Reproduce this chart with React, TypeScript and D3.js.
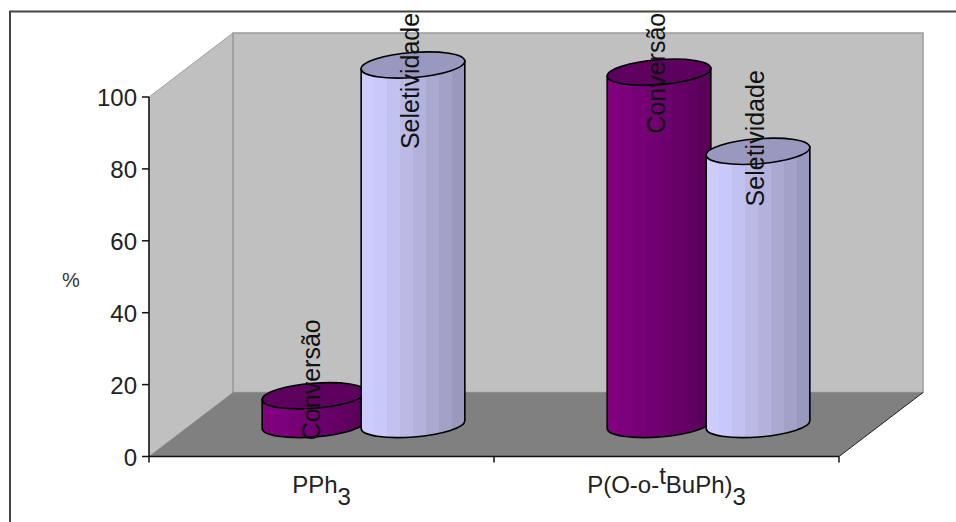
import React from "react";
import * as d3 from "d3";

// Catalyst results per phosphorus ligand, in percent.
const ligands = ["PPh3", "P(O-o-tBuPh)3"];
const seriesNames = ["Conversão", "Seletividade"];
const conversao = [8, 98];
const seletividade = [100, 76];
const yTicks = [0, 20, 40, 60, 80, 100];

const FONT = "'Liberation Sans', Arial, sans-serif";
const DEPTH_X = 84;
const DEPTH_Y = -64;
const RX = 52;
const RY = 12.5;
const TILT = -4.5;

const y = d3.scaleLinear().domain([0, 100]).range([456.5, 97]);
const xGroup = d3.scaleBand().domain(ligands).range([149, 839]);
const xSeries = d3.scaleBand().domain(seriesNames).range([-99, 99]);

// Vertical shading bands across a cylinder, left to right.
const bandsLight = ["#ccccff", "#c8c8fa", "#c2c2f0", "#babae4", "#b2b2dc", "#aaaad0", "#a2a2c8", "#9999bf"];
const bandsDark = ["#800080", "#7c007c", "#770077", "#720072", "#6c006c", "#660066", "#600060", "#5a005a"];

function Bands({ id, colors }: { id: string; colors: string[] }) {
  const n = colors.length;
  return (
    <linearGradient id={id} x1="0" x2="1" y1="0" y2="0">
      {colors.flatMap((c, i) => [
        <stop key={`${i}a`} offset={i / n} stopColor={c} />,
        <stop key={`${i}b`} offset={(i + 1) / n} stopColor={c} />,
      ])}
    </linearGradient>
  );
}

function Cylinder({ cx, value, fill, cap }: { cx: number; value: number; fill: string; cap: string }) {
  const base = y(0) + DEPTH_Y / 2;
  const top = y(value) + DEPTH_Y / 2;
  const a = (TILT * Math.PI) / 180;
  const dx = RX * Math.cos(a);
  const dy = RX * Math.sin(a);
  const body = d3.path();
  body.moveTo(cx - dx, top - dy);
  body.lineTo(cx - dx, base - dy);
  const arc = `A${RX} ${RY} ${TILT} 0 0 ${cx + dx} ${base + dy}`;
  const d = `${body.toString()}${arc}L${cx + dx} ${top + dy}Z`;
  return (
    <g stroke="#000" strokeWidth={1.6}>
      <path d={d} fill={`url(#${fill})`} />
      <ellipse cx={cx} cy={top} rx={RX} ry={RY} fill={cap} transform={`rotate(${TILT} ${cx} ${top})`} />
    </g>
  );
}

export default function App() {
  const xl = xGroup.range()[0];
  const xr = xGroup.range()[1];
  const y0 = y(0);
  const y1 = y(100);
  const columns = [conversao, seletividade];
  const styles = [
    { fill: "cylDark", cap: "#5e005e" },
    { fill: "cylLight", cap: "#9999bf" },
  ];
  const center = (g: string, s: string) =>
    xGroup(g)! + xGroup.bandwidth() / 2 + DEPTH_X / 2 + xSeries(s)! + xSeries.bandwidth() / 2;
  // Vertical nudges of each value label relative to its cylinder's top.
  const labelNudge = [
    [-16, 1],
    [16, -13],
  ];
  return (
    <svg
      width={956}
      height={522}
      style={{ position: "fixed", left: 0, top: 0, background: "#fff" }}
      fontFamily={FONT}
    >
      <defs>
        <Bands id="cylLight" colors={bandsLight} />
        <Bands id="cylDark" colors={bandsDark} />
      </defs>

      <path d="M10 522V11.5H956" fill="none" stroke="#444" strokeWidth={2} />

      {/* Walls and floor of the 3D plot box */}
      <path
        d={`M${xl} ${y0}V${y1}L${xl + DEPTH_X} ${y1 + DEPTH_Y}V${y0 + DEPTH_Y}Z`}
        fill="#c0c0c0"
        stroke="#a0a0a0"
      />
      <path
        d={`M${xl + DEPTH_X} ${y1 + DEPTH_Y}H${xr + DEPTH_X}V${y0 + DEPTH_Y}H${xl + DEPTH_X}Z`}
        fill="#c0c0c0"
        stroke="#9a9a9a"
        strokeWidth={1.5}
      />
      <path
        d={`M${xl} ${y0}L${xl + DEPTH_X} ${y0 + DEPTH_Y}H${xr + DEPTH_X}L${xr} ${y0}Z`}
        fill="#808080"
      />
      <path d={`M${xr} ${y0}L${xr + DEPTH_X} ${y0 + DEPTH_Y}`} stroke="#222" fill="none" />

      {/* Axes */}
      <g stroke="#111" strokeWidth={1.5} fill="none">
        <path d={`M${xl} ${y1}V${y0}H${xr}`} />
        {yTicks.map((t) => (
          <path key={t} d={`M${xl - 7} ${y(t)}H${xl}`} />
        ))}
        {[...ligands.map((g) => xGroup(g)!), xr].map((x) => (
          <path key={x} d={`M${x} ${y0}V${y0 + 6}`} />
        ))}
      </g>
      <g fontSize={24} fill="#222" textAnchor="end">
        {yTicks.map((t) => (
          <text key={t} x={137} y={y(t) + 9}>
            {t}
          </text>
        ))}
      </g>
      <text x={71} y={287} fontSize={20} fill="#333" textAnchor="middle">
        %
      </text>

      {/* Category labels with chemical sub- and superscripts */}
      <g fontSize={24} fill="#222">
        <text x={xGroup(ligands[0])! + xGroup.bandwidth() / 2} y={493} textAnchor="middle">
          PPh<tspan dy={12}>3</tspan>
        </text>
        <text x={xGroup(ligands[1])! + xGroup.bandwidth() / 2} y={493} textAnchor="middle">
          P(O-o-<tspan dy={-9}>t</tspan>
          <tspan dy={9}>BuPh)</tspan>
          <tspan dy={12}>3</tspan>
        </text>
      </g>

      {/* Cylinders, group by group so later series overlap earlier ones */}
      {ligands.map((g, gi) =>
        seriesNames.map((s, si) => (
          <Cylinder key={g + s} cx={center(g, s)} value={columns[si][gi]} {...styles[si]} />
        ))
      )}

      {/* Rotated value labels sit on top of every cylinder */}
      <g fontSize={25} fill="#111" textAnchor="middle">
        {ligands.map((g, gi) =>
          seriesNames.map((s, si) => {
            const lx = center(g, s) + 6;
            const ly = y(columns[si][gi]) + DEPTH_Y / 2 + labelNudge[si][gi];
            return (
              <text key={g + s} transform={`translate(${lx} ${ly}) rotate(-90)`}>
                {s}
              </text>
            );
          })
        )}
      </g>
    </svg>
  );
}
